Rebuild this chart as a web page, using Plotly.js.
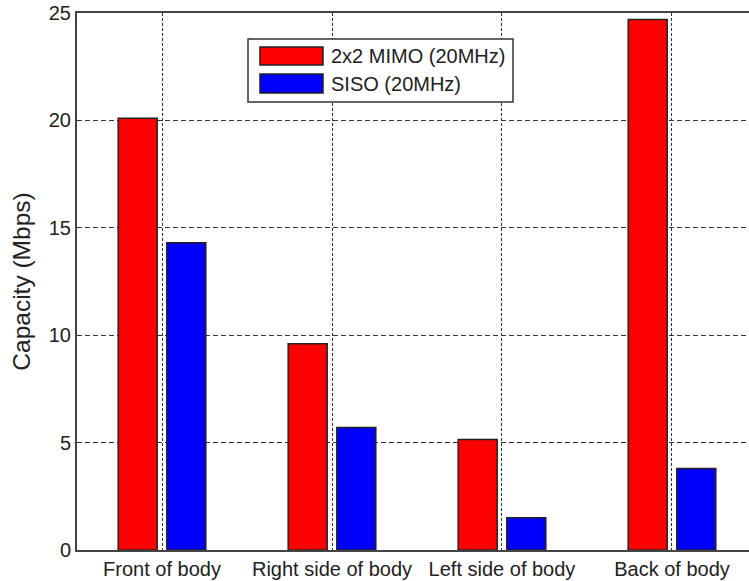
<!DOCTYPE html>
<html>
<head>
<meta charset="utf-8">
<script src="https://cdn.plot.ly/plotly-3.0.1.min.js"></script>
<style>html,body{margin:0;padding:0;background:#fff;}#chart{width:749px;height:581px;}</style>
</head>
<body>
<div id="chart"></div>
<script>
const categories = ["Front of body", "Right side of body", "Left side of body", "Back of body"];
const seriesNames = ["2x2 MIMO (20MHz)", "SISO (20MHz)"];
const seriesColors = ["#ff0000", "#0000ff"];
const mimoValues = [20.1, 9.6, 5.15, 24.7];
const sisoValues = [14.3, 5.7, 1.5, 3.8];
const yTickValues = [0, 5, 10, 15, 20, 25];

const fontFam = "Liberation Sans, Arial, sans-serif";
const W = 749, H = 581, mL = 77, mR = 0, mT = 13, mB = 31;
const pw = W - mL - mR, ph = H - mT - mB;
const px = x => (x - mL) / pw;           // pixel -> paper x
const py = y => (H - mB - y) / ph;        // pixel -> paper y

const traces = [
  {type: "bar", name: seriesNames[0], x: categories, y: mimoValues, showlegend: false,
   marker: {color: seriesColors[0], line: {color: "#222", width: 1.5}}},
  {type: "bar", name: seriesNames[1], x: categories, y: sisoValues, showlegend: false,
   marker: {color: seriesColors[1], line: {color: "#222", width: 1.5}}}
];

// legend box drawn in paper coordinates
const shapes = [
  {type: "rect", xref: "paper", yref: "paper", x0: px(248), x1: px(513), y0: py(102), y1: py(39),
   line: {color: "#333", width: 1.5}, fillcolor: "#fff", layer: "above"},
  {type: "rect", xref: "paper", yref: "paper", x0: px(260), x1: px(323), y0: py(65), y1: py(47),
   line: {color: "#222", width: 1.5}, fillcolor: seriesColors[0], layer: "above"},
  {type: "rect", xref: "paper", yref: "paper", x0: px(260), x1: px(323), y0: py(93), y1: py(74),
   line: {color: "#222", width: 1.5}, fillcolor: seriesColors[1], layer: "above"}
];
const annotations = [
  {xref: "paper", yref: "paper", x: px(329), y: py(56), xanchor: "left", yanchor: "middle",
   text: seriesNames[0], showarrow: false, font: {family: fontFam, size: 20, color: "#222"}},
  {xref: "paper", yref: "paper", x: px(329), y: py(84), xanchor: "left", yanchor: "middle",
   text: seriesNames[1], showarrow: false, font: {family: fontFam, size: 20, color: "#222"}}
];

const layout = {
  width: W, height: H,
  margin: {l: mL, r: mR, t: mT, b: mB},
  paper_bgcolor: "#fff", plot_bgcolor: "#fff",
  font: {family: fontFam, size: 20, color: "#222"},
  barmode: "group", bargap: 0.428, bargroupgap: 0.198,
  showlegend: false,
  shapes: shapes, annotations: annotations,
  xaxis: {type: "category", range: [-0.5, 3.453], showgrid: true,
          gridcolor: "#333", griddash: "3px,2px", gridwidth: 1,
          showline: true, linecolor: "#444", linewidth: 2, mirror: true,
          ticks: "", tickfont: {size: 20}, zeroline: false},
  yaxis: {range: [0, 25], tickvals: yTickValues, showgrid: true,
          gridcolor: "#333", griddash: "5px,3px", gridwidth: 1,
          showline: true, linecolor: "#444", linewidth: 2, mirror: true,
          ticks: "", tickfont: {size: 20}, zeroline: false,
          title: {text: "Capacity (Mbps)", font: {size: 24.5}, standoff: 11}}
};
Plotly.newPlot("chart", traces, layout, {displayModeBar: false, staticPlot: true});
</script>
</body>
</html>
